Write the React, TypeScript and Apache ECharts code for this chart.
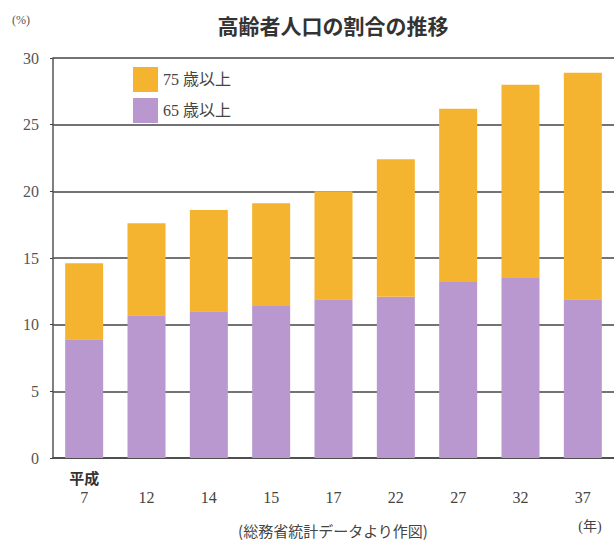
import React, { useEffect, useRef } from "react";
import * as echarts from "echarts";

const categories = ["7", "12", "14", "15", "17", "22", "27", "32", "37"];
const age65to74 = [8.9, 10.7, 11.0, 11.4, 11.9, 12.1, 13.2, 13.5, 11.9];
const age75plus = [5.7, 6.9, 7.6, 7.7, 8.1, 10.3, 13.0, 14.5, 17.0];
const yTicks = [0, 5, 10, 15, 20, 25, 30];

const ORANGE = "#F5B430";
const PURPLE = "#B898CE";
const SERIF = "'Liberation Serif', 'DejaVu Serif', 'Noto Sans CJK JP', serif";
const CJK = "'Noto Sans CJK JP', sans-serif";

export default function App() {
  const ref = useRef<HTMLDivElement>(null);
  useEffect(() => {
    document.body.style.margin = "0";
    if (!ref.current) return;
    const chart = echarts.init(ref.current, undefined, { renderer: "svg" });
    chart.setOption({
      animation: false,
      backgroundColor: "#ffffff",
      grid: { left: 53, right: -2, top: 58, bottom: 84, containLabel: false },
      legend: {
        data: ["75 歳以上", "65 歳以上"],
        orient: "vertical",
        left: 128,
        top: 62,
        icon: "rect",
        itemWidth: 25,
        itemHeight: 25,
        itemGap: 6,
        textStyle: { fontSize: 16, color: "#444", fontFamily: SERIF },
      },
      xAxis: {
        type: "category",
        data: categories,
        axisLine: { show: true, lineStyle: { color: "#444", width: 1.5 } },
        axisTick: { show: false },
        axisLabel: {
          interval: 0,
          hideOverlap: false,
          margin: 9,
          fontSize: 16,
          lineHeight: 20,
          color: "#444",
          fontFamily: SERIF,
          formatter: (v: string, i: number) => (i === 0 ? `{era|平成}\n${v}` : `\n${v}`),
          rich: {
            era: { fontSize: 15, fontWeight: "bold", lineHeight: 20, color: "#333", fontFamily: CJK },
          },
        },
      },
      yAxis: {
        type: "value",
        min: yTicks[0],
        max: yTicks[yTicks.length - 1],
        interval: 5,
        axisLine: { show: true, lineStyle: { color: "#555", width: 1.5 } },
        axisTick: { show: true, length: 3, lineStyle: { color: "#444" } },
        axisLabel: { margin: 14, fontSize: 16, color: "#555", fontFamily: SERIF },
        splitLine: { show: true, lineStyle: { color: "#444", width: 1.5 } },
      },
      series: [
        {
          name: "65 歳以上",
          type: "bar",
          stack: "total",
          barWidth: 38,
          data: age65to74,
          itemStyle: { color: PURPLE },
        },
        {
          name: "75 歳以上",
          type: "bar",
          stack: "total",
          barWidth: 38,
          data: age75plus,
          itemStyle: { color: ORANGE },
        },
      ],
      graphic: [
        {
          type: "text",
          x: 333,
          y: 25,
          style: {
            text: "高齢者人口の割合の推移",
            font: `bold 21px ${CJK}`,
            fill: "#333",
            textAlign: "center",
            textVerticalAlign: "middle",
          },
        },
        {
          type: "text",
          x: 21,
          y: 20,
          style: {
            text: "(%)",
            font: `12px ${SERIF}`,
            fill: "#555",
            textAlign: "center",
            textVerticalAlign: "middle",
          },
        },
        {
          type: "text",
          x: 590,
          y: 526,
          style: {
            text: "(年)",
            font: `14px ${SERIF}`,
            fill: "#444",
            textAlign: "center",
            textVerticalAlign: "middle",
          },
        },
        {
          type: "text",
          x: 333,
          y: 530,
          style: {
            text: "(総務省統計データより作図)",
            font: `15px ${CJK}`,
            fill: "#444",
            textAlign: "center",
            textVerticalAlign: "middle",
          },
        },
      ],
    });
    return () => chart.dispose();
  }, []);
  return <div ref={ref} style={{ width: 614, height: 542 }} />;
}
